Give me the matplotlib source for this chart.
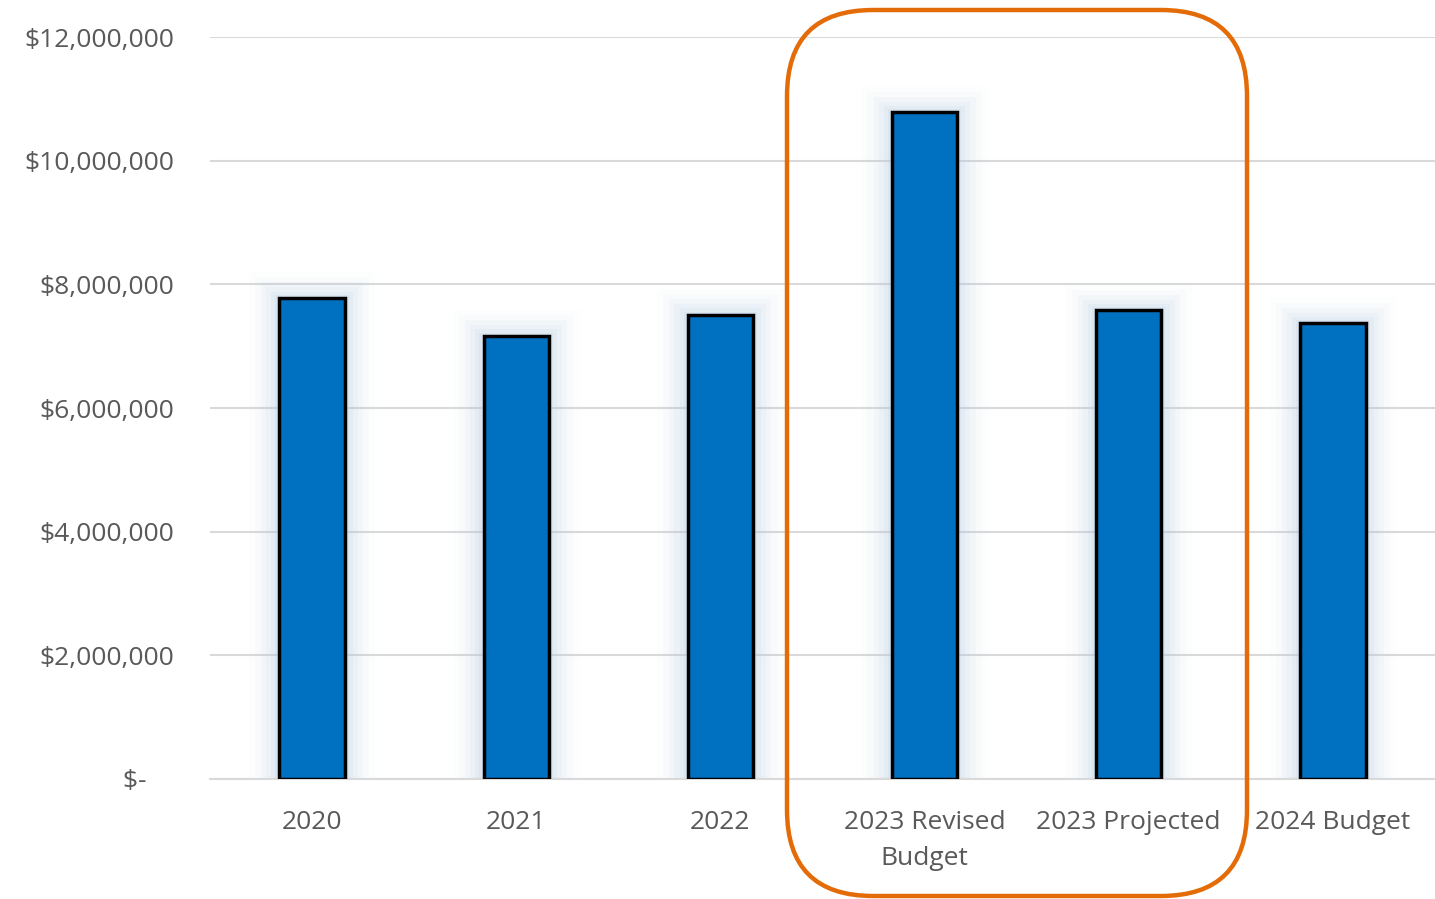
import matplotlib.pyplot as plt
from matplotlib.patches import FancyBboxPatch
from matplotlib.ticker import FuncFormatter

categories = ["2020", "2021", "2022", "2023 Revised\nBudget", "2023 Projected", "2024 Budget"]
values = [7780000, 7170000, 7510000, 10780000, 7580000, 7370000]
y_ticks = [0, 2000000, 4000000, 6000000, 8000000, 10000000, 12000000]

plt.rcParams['font.family'] = ['Open Sans', 'DejaVu Sans']

fig = plt.figure(figsize=(14.35, 8.99), dpi=100)
ax = fig.add_axes([0.1463, 0.1335, 0.8537, 0.8253])

x = list(range(len(categories)))

# soft glow behind the bars (stacked translucent layers)
glow = [(0.62, 420000, 0.04), (0.56, 330000, 0.06), (0.50, 250000, 0.08),
        (0.45, 170000, 0.11), (0.40, 100000, 0.14), (0.36, 50000, 0.18)]
for w, extra, a in glow:
    ax.bar(x, [v + extra for v in values], width=w, color="#b8cce4", alpha=a,
           linewidth=0, zorder=2)

ax.bar(x, values, width=0.32, color="#0070c0", edgecolor="black", linewidth=2.5, zorder=3)

ax.set_xlim(-0.5, 5.5)
ax.set_ylim(0, 12000000)
ax.set_yticks(y_ticks)


def money(v, pos):
    if v == 0:
        return "$-    "
    return "${:,.0f}".format(v)


ax.yaxis.set_major_formatter(FuncFormatter(money))
ax.set_xticks(x)
ax.set_xticklabels(categories, linespacing=1.6)
ax.grid(axis="y", color="#d9d9d9", linewidth=1.5, zorder=0)
ax.set_axisbelow(True)
for s in ["top", "right", "left"]:
    ax.spines[s].set_visible(False)
ax.spines["bottom"].set_color("#d9d9d9")
ax.spines["bottom"].set_linewidth(1.5)
ax.tick_params(axis="both", length=0, labelsize=19, colors="#595959")
ax.tick_params(axis="y", pad=26)
ax.tick_params(axis="x", pad=22)

# highlight box around the 2023 columns
box = FancyBboxPatch((787 / 1435, 1 - 896 / 899), (1247 - 787) / 1435, (896 - 10) / 899,
                     boxstyle="round,pad=0,rounding_size=0.06",
                     transform=fig.transFigure, fill=False,
                     edgecolor="#e36c09", linewidth=3.2, zorder=10,
                     mutation_aspect=1435 / 899)
fig.patches.append(box)

fig.savefig("out.png", dpi=100)
